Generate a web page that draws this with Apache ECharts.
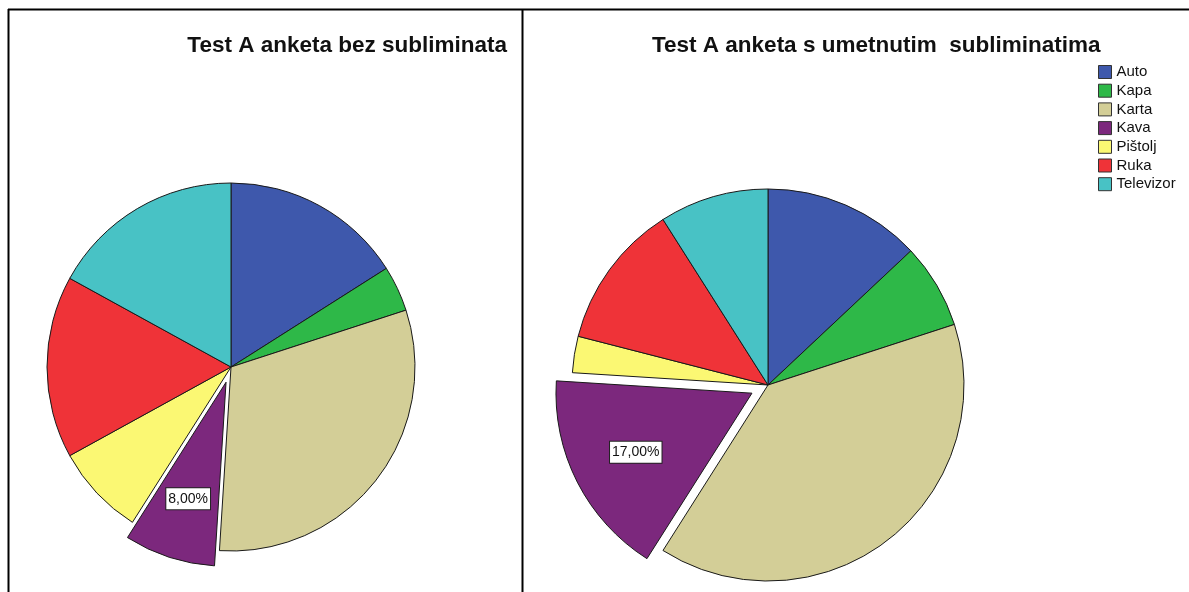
<!DOCTYPE html>
<html>
<head>
<meta charset="utf-8">
<script src="https://cdn.jsdelivr.net/npm/echarts@6/dist/echarts.min.js"></script>
<style>
  html, body { margin: 0; padding: 0; background: #fff; }
  #chart { width: 1189px; height: 592px; }
</style>
</head>
<body>
<div id="chart"></div>
<script>
// Answer categories shared by both surveys
const categories = ['Auto', 'Kapa', 'Karta', 'Kava', 'Pištolj', 'Ruka', 'Televizor'];
// Percent of answers, survey without subliminals
const valuesBez = [16, 4, 31, 8, 8, 16, 17];
// Percent of answers, survey with embedded subliminals
const valuesSub = [13, 7, 39, 17, 3, 12, 9];
const titles = ['Test A anketa bez subliminata', 'Test A anketa s umetnutim  subliminatima'];
const highlighted = 'Kava';

const colors = ['#3E58AC', '#2EB848', '#D3CE97', '#7C287D', '#FBF873', '#EF3338', '#48C2C5'];
const FONT = '"Liberation Sans", Arial, sans-serif';

function fmtPct(p) {
  return p.toFixed(2).replace('.', ',') + '%';
}

function pieData(values) {
  return categories.map((name, i) => ({
    name: name,
    value: values[i],
    selected: name === highlighted
  }));
}

function pieSeries(values, center, r, offset) {
  return [{
    type: 'pie',
    center: center,
    radius: [0, r],
    startAngle: 90,
    clockwise: true,
    selectedMode: 'multiple',
    selectedOffset: offset,
    silent: true,
    animation: false,
    label: { show: false },
    labelLine: { show: false },
    itemStyle: { borderColor: '#1a1a1a', borderWidth: 1 },
    data: pieData(values)
  }, {
    // transparent ring carrying the percentage label of the highlighted slice
    type: 'pie',
    center: center,
    radius: [r * 0.3, r],
    startAngle: 90,
    clockwise: true,
    selectedMode: 'multiple',
    selectedOffset: offset,
    silent: true,
    animation: false,
    legendHoverLink: false,
    itemStyle: { color: 'rgba(0,0,0,0)', borderWidth: 0 },
    labelLine: { show: false },
    label: { show: false },
    data: pieData(values).map(d => Object.assign(d, {
      label: d.name === highlighted ? {
        show: true,
        position: 'inside',
        rotate: 0,
        formatter: p => fmtPct(p.percent),
        fontFamily: FONT,
        fontSize: 14,
        color: '#111',
        backgroundColor: '#fff',
        borderColor: '#222',
        borderWidth: 1,
        padding: [4, 2, 3, 2]
      } : { show: false }
    }))
  }];
}

const chart = echarts.init(document.getElementById('chart'), null, { renderer: 'canvas' });

chart.setOption({
  backgroundColor: '#fff',
  color: colors,
  animation: false,
  title: [{
    text: titles[0],
    right: 682,
    top: 34,
    padding: 0,
    textStyle: { fontFamily: FONT, fontSize: 22.5, fontWeight: 'bold', color: '#111' }
  }, {
    text: titles[1],
    left: 652,
    top: 34,
    padding: 0,
    textStyle: { fontFamily: FONT, fontSize: 22.5, fontWeight: 'bold', color: '#111' }
  }],
  legend: {
    orient: 'vertical',
    left: 1098,
    top: 64.5,
    padding: 0,
    itemWidth: 13,
    itemHeight: 13,
    itemGap: 3.7,
    icon: 'rect',
    selectedMode: false,
    data: categories,
    itemStyle: { borderColor: '#333', borderWidth: 1 },
    textStyle: { fontFamily: FONT, fontSize: 15, color: '#111' }
  },
  graphic: [
    { type: 'line', shape: { x1: 8, y1: 9.5, x2: 1189, y2: 9.5 }, style: { stroke: '#000', lineWidth: 2 }, silent: true },
    { type: 'line', shape: { x1: 8.5, y1: 9, x2: 8.5, y2: 592 }, style: { stroke: '#000', lineWidth: 2 }, silent: true },
    { type: 'line', shape: { x1: 522.5, y1: 9, x2: 522.5, y2: 592 }, style: { stroke: '#000', lineWidth: 2 }, silent: true }
  ],
  series: [].concat(
    pieSeries(valuesBez, [231, 367], 184, 16),
    pieSeries(valuesSub, [768, 385], 196, 18)
  )
});
</script>
</body>
</html>
